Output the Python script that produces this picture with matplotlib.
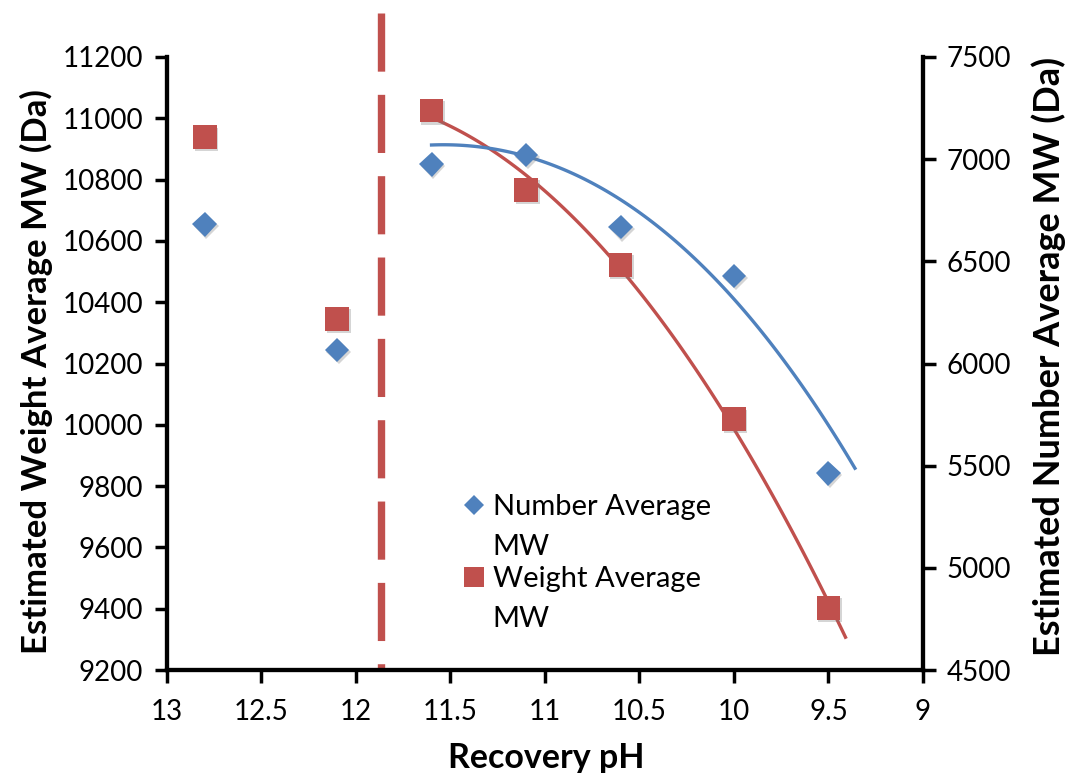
import numpy as np
import matplotlib
matplotlib.use('Agg')
import matplotlib.pyplot as plt
import matplotlib.patheffects as pe

plt.rcParams['font.family'] = ['Lato', 'DejaVu Sans']

ph = [12.8, 12.1, 11.6, 11.1, 10.6, 10.0, 9.5]
weight_mw = [10938, 10345, 11025, 10766, 10521, 10018, 9403]
number_mw = [6681, 6066, 6975, 7020, 6667, 6428, 5463]

# number-average trendline
trend_ph = [11.6, 11.4, 11.1, 10.6, 10.0, 9.36]
trend_number = [7053, 7081, 7037, 6760, 6340, 5482]

legend_labels = ['Number Average\nMW', 'Weight Average\nMW']

fit_from = 2          # weight trendline uses points after the cut-off
red_end = 9.41
cutoff_ph = 11.87
cutoff_top = 11342

blue = '#4F81BD'
red = '#C0504D'
shadow = [pe.SimplePatchShadow(offset=(1.2, -1.5), shadow_rgbFace='#777777', alpha=0.3),
          pe.Normal()]

fig = plt.figure(figsize=(10.7, 7.73), dpi=100)
ax = fig.add_axes([0.156, 0.1332, 0.7066, 0.7931])
ax2 = ax.twinx()

cw = np.polyfit(ph[fit_from:], weight_mw[fit_from:], 2)
xr = np.linspace(ph[fit_from], red_end, 120)
ax.plot(xr, np.polyval(cw, xr), color=red, lw=2.4, zorder=2)

cn = np.polyfit(trend_ph, trend_number, 3)
xb = np.linspace(trend_ph[0], trend_ph[-1], 120)
ax2.plot(xb, np.polyval(cn, xb), color=blue, lw=2.4, zorder=2)

ax.plot([cutoff_ph, cutoff_ph], [cutoff_top, 9200], color=red, lw=5.3,
        dashes=(7.9, 3.15), solid_capstyle='butt', dash_capstyle='butt',
        clip_on=False, zorder=1)

ax.plot(ph, weight_mw, 's', color=red, ms=17, mew=0, zorder=3, path_effects=shadow)
ax2.plot(ph, number_mw, 'D', color=blue, ms=12.5, mew=0, zorder=3, path_effects=shadow)

ax.set_xlim(13, 9)
ax.set_ylim(9200, 11200)
ax2.set_ylim(4500, 7500)
ax.set_xticks(np.arange(13, 8.9, -0.5))
ax.set_xticklabels(['13', '12.5', '12', '11.5', '11', '10.5', '10', '9.5', '9'])
ax.set_yticks(np.arange(9200, 11201, 200))
ax2.set_yticks(np.arange(4500, 7501, 500))

for a in (ax, ax2):
    a.spines['top'].set_visible(False)
    for s in ('left', 'right', 'bottom'):
        a.spines[s].set_linewidth(3)
    a.tick_params(direction='out', length=9, width=2.5, labelsize=20, pad=8)
ax.tick_params(axis='x', pad=12)

ax.set_xlabel('Recovery pH', fontsize=24.5, fontweight='bold')
ax.xaxis.set_label_coords(0.502, -0.16)
ax.xaxis.label.set_va('baseline')
ax.set_ylabel('Estimated Weight Average MW (Da)', fontsize=25, fontweight='bold')
ax.yaxis.set_label_coords(-0.151, 0.487)
ax2.set_ylabel('Estimated Number Average MW (Da)', fontsize=26, fontweight='bold')
ax2.yaxis.set_label_coords(1.143, 0.512)

# legend drawn by hand so the marker sits on the first line of each label
ax.plot(0.406, 0.269, 'D', color=blue, ms=9.8, mew=0, transform=ax.transAxes, clip_on=False)
ax.plot(0.406, 0.152, 's', color=red, ms=13.9, mew=0, transform=ax.transAxes, clip_on=False)
for label, y0 in zip(legend_labels, [0.253, 0.135]):
    for i, line in enumerate(label.split('\n')):
        ax.text(0.431, y0 - i * 0.065, line, transform=ax.transAxes,
                fontsize=21, va='baseline', ha='left')

fig.savefig('out.png', dpi=100)
